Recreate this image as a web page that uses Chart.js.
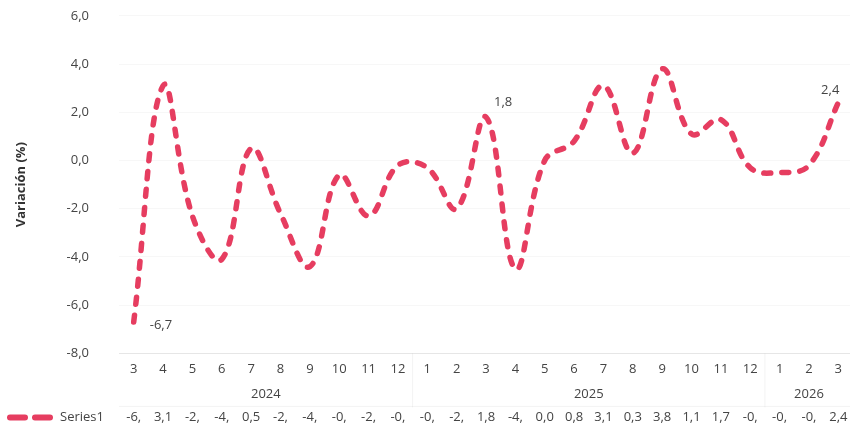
<!DOCTYPE html>
<html>
<head>
<meta charset="utf-8">
<script src="https://cdn.jsdelivr.net/npm/chart.js@4.4.1/dist/chart.umd.min.js"></script>
<style>
  html, body { margin: 0; padding: 0; background: #fff; overflow: hidden; }
  #wrap { width: 853px; height: 451px; position: relative; top: -22px; }
</style>
</head>
<body>
<div id="wrap"><canvas id="varChart"></canvas></div>
<script>
// month labels and the year each group belongs to
const months = ["3", "4", "5", "6", "7", "8", "9", "10", "11", "12",
                "1", "2", "3", "4", "5", "6", "7", "8", "9", "10", "11", "12",
                "1", "2", "3"];
const years = ["2024", "2025", "2026"];
const yearCounts = [10, 12, 3];

// Series1 - monthly variation (%)
const series1 = [-6.7, 3.1, -2.3, -4.1, 0.5, -2.2, -4.4, -0.6, -2.3, -0.2,
                 -0.3, -2.0, 1.8, -4.5, 0.0, 0.8, 3.1, 0.3, 3.8, 1.1, 1.7, -0.3,
                 -0.5, -0.2, 2.4];

const yTicks = [6, 4, 2, 0, -2, -4, -6, -8];
const labelledPoints = [0, 12, 24]; // points that carry a value label

const lineColor = "#e63d60";
const textColor = "#444";
const fontFamily = "'Open Sans', 'Noto Sans', sans-serif";

function fmt(v) {
    return v.toFixed(1).replace(".", ",");
}

// draws year row, data table and point labels
const extrasPlugin = {
    id: "extras",
    afterDraw(chart) {
        const ctx = chart.ctx;
        const x = chart.scales.x;
        const area = chart.chartArea;
        const meta = chart.getDatasetMeta(0);
        const step = x.getPixelForValue(1) - x.getPixelForValue(0);

        ctx.save();
        ctx.font = "13px " + fontFamily;
        ctx.fillStyle = textColor;
        ctx.textBaseline = "middle";

        // point value labels
        labelledPoints.forEach(i => {
            const p = meta.data[i];
            const txt = fmt(series1[i]);
            if (i === 0) {
                ctx.textAlign = "left";
                ctx.fillText(txt, p.x + 16, p.y + 3);
            } else if (i === series1.length - 1) {
                ctx.textAlign = "right";
                ctx.fillText(txt, p.x + 1, p.y - 12);
            } else {
                ctx.textAlign = "left";
                ctx.fillText(txt, p.x + 8, p.y - 15);
            }
        });

        // year row
        const yearY = area.bottom + 41;
        let start = 0;
        ctx.textAlign = "center";
        ctx.strokeStyle = "rgba(0,0,0,0.05)";
        ctx.lineWidth = 1;
        years.forEach((yr, k) => {
            const end = start + yearCounts[k] - 1;
            const cx = (x.getPixelForValue(start) + x.getPixelForValue(end)) / 2;
            ctx.fillText(yr, cx, yearY);
            const sepX = x.getPixelForValue(end) + step / 2;
            ctx.beginPath();
            ctx.moveTo(sepX, area.bottom);
            ctx.lineTo(sepX, area.bottom + 54);
            ctx.stroke();
            start = end + 1;
        });

        // data table row
        const rowY = area.bottom + 64;
        ctx.beginPath();
        ctx.moveTo(area.left, area.bottom + 53);
        ctx.lineTo(area.right, area.bottom + 53);
        ctx.stroke();

        // legend key (dashed line)
        ctx.strokeStyle = lineColor;
        ctx.lineWidth = 6;
        ctx.lineCap = "round";
        ctx.setLineDash([15, 10]);
        ctx.beginPath();
        ctx.moveTo(10, rowY);
        ctx.lineTo(52, rowY);
        ctx.stroke();
        ctx.setLineDash([]);

        ctx.textAlign = "left";
        ctx.fillText("Series1", 60, rowY);

        ctx.textAlign = "center";
        series1.forEach((v, i) => {
            let txt = fmt(v);
            while (ctx.measureText(txt).width > step - 10 && txt.length > 1) {
                txt = txt.slice(0, -1);
            }
            ctx.fillText(txt, x.getPixelForValue(i), rowY);
        });
        ctx.restore();
    }
};

const ctx = document.getElementById("varChart").getContext("2d");
new Chart(ctx, {
    type: "line",
    data: {
        labels: months,
        datasets: [{
            label: "Series1",
            data: series1,
            borderColor: lineColor,
            borderWidth: 5.5,
            borderDash: [7, 11],
            borderCapStyle: "round",
            tension: 0.4,
            pointRadius: 0,
            fill: false
        }]
    },
    options: {
        responsive: true,
        maintainAspectRatio: false,
        animation: false,
        layout: {
            padding: { top: -11, right: 0, bottom: 52, left: 13 }
        },
        plugins: {
            legend: { display: false },
            tooltip: { enabled: false }
        },
        scales: {
            x: {
                offset: true,
                grid: { display: false },
                border: { color: "rgba(0,0,0,0.07)" },
                ticks: {
                    color: textColor,
                    font: { family: fontFamily, size: 13 },
                    maxRotation: 0,
                    autoSkip: false,
                    padding: 0
                }
            },
            y: {
                min: -8,
                max: 6,
                afterBuildTicks(axis) {
                    axis.ticks = yTicks.map(v => ({ value: v }));
                },
                grid: { color: "rgba(0,0,0,0.03)", drawTicks: false },
                border: { display: false },
                ticks: {
                    color: textColor,
                    font: { family: fontFamily, size: 13 },
                    padding: 30,
                    callback: v => fmt(v)
                },
                title: {
                    display: true,
                    text: "Variación (%)",
                    color: "#333",
                    font: { family: fontFamily, size: 13, weight: "bold" },
                    padding: { top: 0, bottom: 8 }
                }
            }
        }
    },
    plugins: [extrasPlugin]
});
</script>
</body>
</html>
